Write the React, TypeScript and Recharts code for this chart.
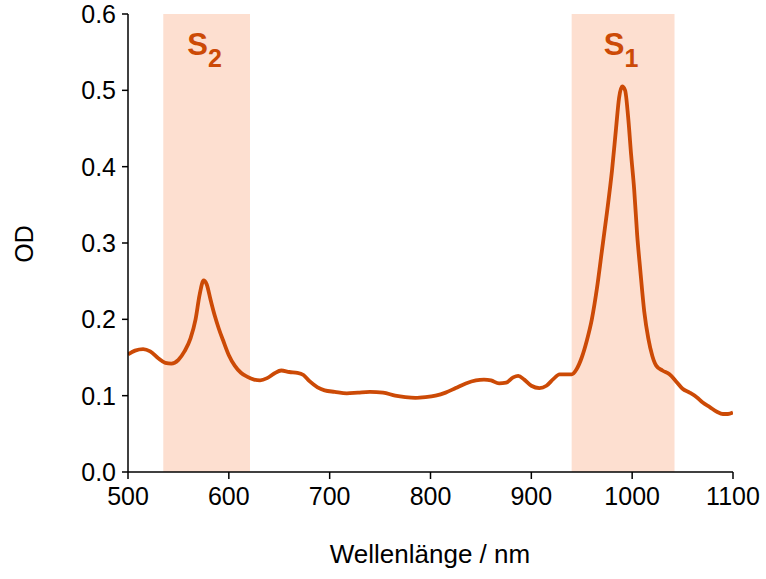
import { LineChart, Line, XAxis, YAxis, ReferenceArea } from "recharts";

const wavelengths = [
  500, 507, 515, 522, 530, 537, 543, 550, 556, 562, 567, 571, 575, 578, 582, 586, 590, 595, 600, 606,
  612, 618, 625, 631, 638, 645, 652, 660, 668, 674, 680, 688, 695, 705, 717, 728, 740, 753, 765, 775,
  785, 795, 805, 815, 825, 835, 845, 853, 860, 868, 875, 882, 887, 893, 900, 908, 915, 922, 928, 935,
  940, 945, 950, 955, 960, 965, 970, 975, 980, 984, 987, 990, 993, 996, 999, 1002, 1005, 1008, 1012, 1016,
  1020, 1024, 1030, 1037, 1044, 1050, 1057, 1064, 1070, 1077, 1084, 1090, 1095, 1100,
];

const od = [
  0.154, 0.159, 0.161, 0.158, 0.149, 0.143, 0.142, 0.147, 0.158, 0.175, 0.2, 0.232, 0.251, 0.246, 0.225, 0.205, 0.188, 0.17, 0.153, 0.139,
  0.13, 0.125, 0.121, 0.12, 0.123, 0.129, 0.133, 0.131, 0.13, 0.127, 0.119, 0.111, 0.107, 0.105, 0.103, 0.104, 0.105, 0.104, 0.1, 0.098,
  0.097, 0.098, 0.1, 0.104, 0.11, 0.116, 0.12, 0.121, 0.12, 0.116, 0.117, 0.124, 0.126, 0.121, 0.113, 0.11, 0.113, 0.122, 0.128, 0.128,
  0.128, 0.135, 0.15, 0.172, 0.2, 0.24, 0.29, 0.34, 0.395, 0.45, 0.49, 0.505, 0.5, 0.465, 0.415, 0.37, 0.31, 0.265, 0.21, 0.175,
  0.152, 0.139, 0.133, 0.128, 0.118, 0.109, 0.104, 0.098, 0.091, 0.085, 0.079, 0.076, 0.076, 0.078,
];

const xTicks = [500, 600, 700, 800, 900, 1000, 1100];
const yTicks = [0, 0.1, 0.2, 0.3, 0.4, 0.5, 0.6];

const bands = [
  { x1: 535, x2: 621, sub: "2" },
  { x1: 940, x2: 1042, sub: "1" },
];

const data = wavelengths.map((w, i) => ({ w, od: od[i] }));

const ORANGE = "#CC4A06";
const SHADE = "#FDDFD0";
const FONT = "'Liberation Sans', Arial, Helvetica, sans-serif";

function BandLabel(props: any) {
  const { viewBox, sub } = props;
  const cx = viewBox.x + viewBox.width / 2 - 2;
  return (
    <text x={cx} y={55} textAnchor="middle" fill={ORANGE} fontFamily={FONT} fontWeight="bold" fontSize={31}>
      <tspan>S</tspan>
      <tspan fontSize={25} dy={12}>{sub}</tspan>
    </text>
  );
}

export default function App() {
  return (
    <div style={{ position: "absolute", left: 0, top: 0, width: 766, height: 579, background: "#fff" }}>
      <LineChart
        width={766}
        height={579}
        data={data}
        margin={{ top: 14, right: 33, left: 68, bottom: 47 }}
      >
        {bands.map((b) => (
          <ReferenceArea
            key={b.sub}
            x1={b.x1}
            x2={b.x2}
            y1={0}
            y2={0.6}
            fill={SHADE}
            fillOpacity={1}
            stroke="none"
            label={<BandLabel sub={b.sub} />}
          />
        ))}
        <XAxis
          dataKey="w"
          type="number"
          domain={[500, 1100]}
          ticks={xTicks}
          allowDataOverflow
          height={60}
          tickSize={7}
          tickMargin={8}
          stroke="#000"
          strokeWidth={1.5}
          tick={{ fill: "#000", fontSize: 25, fontFamily: FONT }}
          label={{
            content: () => (
              <text x={430} y={563} textAnchor="middle" fill="#000" fontSize={26} fontFamily={FONT}>
                Wellenlänge / nm
              </text>
            ),
          }}
        />
        <YAxis
          type="number"
          domain={[0, 0.6]}
          ticks={yTicks}
          allowDataOverflow
          width={60}
          tickSize={6}
          tickMargin={6}
          stroke="#000"
          strokeWidth={1.5}
          tickFormatter={(v: number) => v.toFixed(1)}
          tick={{ fill: "#000", fontSize: 25, fontFamily: FONT }}
          label={{
            content: () => (
              <text
                x={33}
                y={244}
                transform="rotate(-90 33 244)"
                textAnchor="middle"
                fill="#000"
                fontSize={25}
                fontFamily={FONT}
              >
                OD
              </text>
            ),
          }}
        />
        <Line
          type="monotone"
          dataKey="od"
          stroke={ORANGE}
          strokeWidth={3.8}
          dot={false}
          isAnimationActive={false}
        />
      </LineChart>
    </div>
  );
}
